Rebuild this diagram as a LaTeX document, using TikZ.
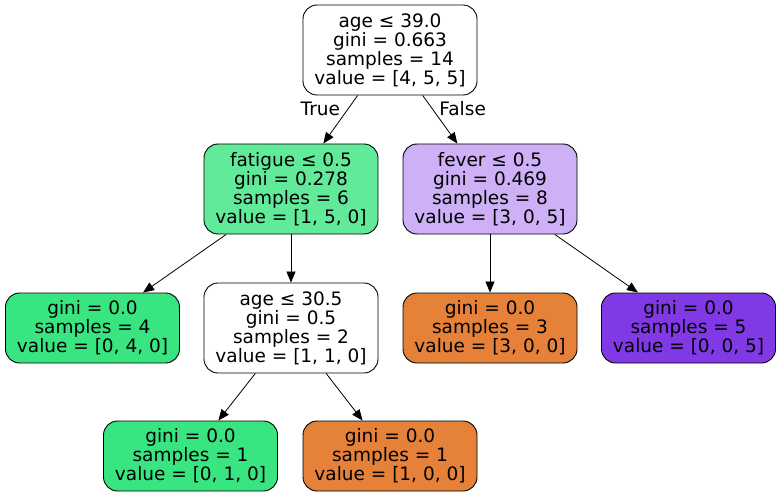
\documentclass[tikz,border=0pt]{standalone}
\usepackage{fontspec}
\setmainfont{DejaVu Sans}
\usetikzlibrary{
  arrows.meta,
  positioning
}
\definecolor{orangeleaf}{HTML}{E58139}
\definecolor{greenleaf}{HTML}{39E581}
\definecolor{purpleleaf}{HTML}{8139E5}
\definecolor{greensplit}{HTML}{61EA9A}
\definecolor{purplesplit}{HTML}{CDB0F5}
\tikzset{
  % For all tree boxes.
  treebox/.style={
    draw,
    line width=0.9pt,
    rectangle,
    rounded corners=14pt,
    align=center,
    inner sep=0pt,
    minimum width=174pt,
    font=\fontsize{18.5pt}{19pt}\selectfont},
%
  % For boxes that split the samples (four lines).
  split/.style={
    treebox,
    minimum height=90pt},
%
  % For boxes at the end of a branch (three lines).
  leaf/.style={
    treebox,
    minimum height=70pt},
%
  % For connectors between boxes.
  edge/.style={
    line width=0.8pt,
    -{Triangle[length=11pt,width=9pt]}},
%
  % For the texts on the first two connectors.
  edgelabel/.style={
    inner sep=0pt,
    font=\fontsize{18.5pt}{19pt}\selectfont}
}

\begin{document}
\begin{tikzpicture}[x=1pt, y=-1pt]
  \useasboundingbox (0,0) rectangle (781,497);

  \node[split, fill=white] (root) at (390,50)
    {age ≤ 39.0\\gini = 0.663\\samples = 14\\value = [4, 5, 5]};

  \node[split, fill=greensplit] (fatigue) at (291,189)
    {fatigue ≤ 0.5\\gini = 0.278\\samples = 6\\value = [1, 5, 0]};
  \node[split, fill=purplesplit] (fever) at (490,189)
    {fever ≤ 0.5\\gini = 0.469\\samples = 8\\value = [3, 0, 5]};

  \node[leaf, fill=greenleaf] (leaf a) at (92.5,328)
    {gini = 0.0\\samples = 4\\value = [0, 4, 0]};
  \node[split, fill=white] (age) at (291,328)
    {age ≤ 30.5\\gini = 0.5\\samples = 2\\value = [1, 1, 0]};
  \node[leaf, fill=orangeleaf] (leaf b) at (490,328)
    {gini = 0.0\\samples = 3\\value = [3, 0, 0]};
  \node[leaf, fill=purpleleaf] (leaf c) at (688.5,328)
    {gini = 0.0\\samples = 5\\value = [0, 0, 5]};

  \node[leaf, fill=greenleaf] (leaf d) at (190.5,456)
    {gini = 0.0\\samples = 1\\value = [0, 1, 0]};
  \node[leaf, fill=orangeleaf] (leaf e) at (390,456)
    {gini = 0.0\\samples = 1\\value = [1, 0, 0]};

  \draw[edge] (root) -- node[edgelabel, pos=0.27, left=8pt] (true) {True}
              (fatigue);
  \draw[edge] (root) -- node[edgelabel, pos=0.27, right=7pt] (false) {False}
              (fever);

  \draw[edge] (fatigue) -- (leaf a);
  \draw[edge] (fatigue) -- (age);
  \draw[edge] (fever) -- (leaf b);
  \draw[edge] (fever) -- (leaf c);
  \draw[edge] (age) -- (leaf d);
  \draw[edge] (age) -- (leaf e);
\end{tikzpicture}
\end{document}
